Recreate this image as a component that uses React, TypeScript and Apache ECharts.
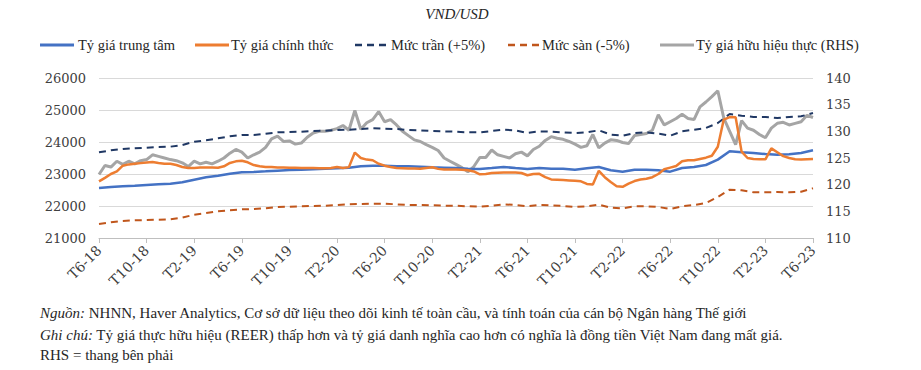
import React, { useEffect, useRef } from "react";
import * as echarts from "echarts";

// Monthly readings, index 0 = T6-18 ... 60 = T6-23
const centralRate = [
  22562, 22594, 22615, 22635, 22656, 22677, 22698, 22740, 22823, 22896,
  22948, 23010, 23052, 23063, 23083, 23104, 23125, 23135, 23146, 23167,
  23177, 23198, 23240, 23260, 23260, 23240, 23240, 23230, 23208, 23198,
  23187, 23167, 23156, 23187, 23219, 23187, 23156, 23187, 23167, 23167,
  23135, 23177, 23219, 23115, 23073, 23135, 23135, 23115, 23073, 23187,
  23219, 23281, 23450, 23708, 23677, 23656, 23625, 23604, 23615, 23656,
  23740,
];
const ceiling = [
  23677, 23740, 23781, 23802, 23823, 23844, 23854, 23906, 24010, 24052,
  24115, 24177, 24219, 24219, 24260, 24302, 24313, 24323, 24344, 24354,
  24375, 24385, 24406, 24427, 24417, 24406, 24375, 24365, 24344, 24333,
  24323, 24302, 24302, 24344, 24385, 24365, 24281, 24333, 24323, 24302,
  24281, 24302, 24365, 24229, 24198, 24281, 24302, 24260, 24198, 24333,
  24385, 24437, 24594, 24875, 24823, 24781, 24781, 24750, 24781, 24802,
  24906,
];
const floor = [
  21437, 21490, 21531, 21552, 21563, 21573, 21583, 21635, 21729, 21781,
  21833, 21865, 21896, 21906, 21927, 21969, 21979, 21990, 22000, 22010,
  22031, 22052, 22062, 22073, 22073, 22052, 22031, 22031, 22021, 22010,
  22010, 21990, 21979, 22010, 22052, 22031, 21990, 22031, 22021, 22000,
  21969, 21990, 22042, 21948, 21927, 21990, 21990, 21969, 21906, 21990,
  22031, 22094, 22281, 22510, 22490, 22427, 22427, 22438, 22427, 22448,
  22552,
];
// Semi-monthly readings, index k -> month k/2
const officialRate = [
  22770, 22880, 23000, 23080, 23260, 23300, 23320, 23340, 23360, 23375,
  23345, 23320, 23320, 23280, 23220, 23190, 23190, 23200, 23200, 23200,
  23195, 23240, 23345, 23395, 23415, 23365, 23280, 23240, 23220, 23215,
  23200, 23205, 23195, 23195, 23190, 23190, 23185, 23180, 23180, 23190,
  23220, 23190, 23215, 23670, 23500, 23450, 23430, 23320, 23260, 23220,
  23190, 23180, 23170, 23170, 23165, 23190, 23210, 23160, 23140, 23140,
  23140, 23130, 23115, 23080, 22990, 23000, 23030, 23040, 23050, 23050,
  23045, 23030, 22960, 23000, 23005, 22900, 22830, 22820, 22810, 22800,
  22790, 22770, 22690, 22670, 23100, 22900, 22750, 22620, 22600, 22700,
  22780, 22830, 22850, 22900, 23000, 23150, 23200, 23250, 23400, 23430,
  23430, 23470, 23510, 23570, 23850, 24700, 24780, 24770, 23700, 23500,
  23470, 23460, 23460, 23800, 23680, 23560, 23500, 23460, 23450, 23460,
  23470,
];
const reer = [
  121.9, 123.6, 123.3, 124.4, 123.8, 124.4, 123.9, 124.5, 124.7, 125.6,
  125.3, 125.0, 124.7, 124.5, 124.1, 123.4, 124.4, 123.9, 124.2, 123.9,
  124.4, 125.0, 125.9, 126.6, 126.1, 125.0, 125.6, 126.1, 127.0, 128.6,
  129.1, 128.1, 128.2, 127.6, 127.8, 128.9, 129.7, 130.0, 130.0, 130.2,
  130.5, 131.1, 130.2, 133.9, 130.4, 131.6, 132.2, 133.7, 131.8, 132.2,
  131.2, 130.0, 129.2, 128.4, 128.1, 127.5, 127.0, 126.4, 125.0, 124.4,
  123.8, 123.2, 122.4, 123.4, 125.1, 125.1, 126.5, 125.6, 125.3, 125.0,
  125.8, 126.1, 125.4, 126.6, 127.2, 128.3, 129.0, 128.7, 128.5, 128.1,
  127.6, 127.0, 127.3, 129.4, 126.9, 127.8, 128.4, 128.3, 127.9, 127.7,
  129.2, 129.4, 129.6, 130.2, 133.1, 131.2, 131.8, 132.4, 133.2, 132.4,
  132.2, 134.6, 135.5, 136.5, 137.6, 132.5, 130.0, 127.5, 132.0, 130.6,
  130.2, 129.4, 128.8, 130.6, 131.5, 131.7, 131.2, 131.5, 131.8, 133.0,
  132.6,
];

const seriesNames = [
  "Tỷ giá trung tâm",
  "Tỷ giá chính thức",
  "Mức trần (+5%)",
  "Mức sàn (-5%)",
  "Tỷ giá hữu hiệu thực (RHS)",
];
const seriesColors = ["#4472C4", "#ED7D31", "#203864", "#C0561C", "#A5A5A5"];
const seriesDashed = [false, false, true, true, false];
const subtitle = "VND/USD";
const noteSource =
  "NHNN, Haver Analytics, Cơ sở dữ liệu theo dõi kinh tế toàn cầu, và tính toán của cán bộ Ngân hàng Thế giới";
const noteComment =
  "Tỷ giá thực hữu hiệu (REER) thấp hơn và tỷ giá danh nghĩa cao hơn có nghĩa là đồng tiền Việt Nam đang mất giá.";
const noteRhs = "RHS = thang bên phải";

const monthly = (arr: number[]) => arr.map((v, i) => [i, v]);
const semiMonthly = (arr: number[]) => arr.map((v, i) => [i / 2, v]);

const monthLabel = (v: number) => {
  const m = 6 + v;
  const yy = 18 + Math.floor((m - 1) / 12);
  const mm = ((m - 1) % 12) + 1;
  return `T${mm}-${yy}`;
};

const SERIF = "'Liberation Serif', 'Times New Roman', serif";
const AXISFONT = "'DejaVu Serif', serif";

// legend layout: [lineStart, textStart]
const legendPos = [
  [40, 78],
  [195, 231],
  [355, 391],
  [508, 542],
  [660, 696],
];

export default function App() {
  const ref = useRef<HTMLDivElement>(null);
  useEffect(() => {
    if (!ref.current) return;
    const chart = echarts.init(ref.current, undefined, { renderer: "svg" });
    const legendGraphics: any[] = [];
    seriesNames.forEach((name, i) => {
      const [lx, tx] = legendPos[i];
      legendGraphics.push({
        type: "line",
        shape: { x1: lx, y1: 45, x2: lx + 34, y2: 45 },
        style: {
          stroke: seriesColors[i],
          lineWidth: seriesDashed[i] ? 2.5 : 3,
          lineDash: seriesDashed[i] ? [7, 5] : null,
        },
      });
      legendGraphics.push({
        type: "text",
        x: tx,
        y: 45,
        style: {
          text: name,
          font: `14.5px ${SERIF}`,
          fill: "#262626",
          verticalAlign: "middle",
        },
      });
    });
    chart.setOption({
      animation: false,
      backgroundColor: "#ffffff",
      grid: { left: 99, right: 108, top: 78, bottom: 132 },
      graphic: [
        {
          type: "text",
          x: 457,
          y: 14,
          style: {
            text: subtitle,
            font: `italic 15px ${SERIF}`,
            fill: "#262626",
            align: "center",
            verticalAlign: "middle",
          },
        },
        ...legendGraphics,
        {
          type: "text",
          x: 40,
          y: 313,
          style: {
            text: `{i|Nguồn:} ${noteSource}`,
            font: `15px ${SERIF}`,
            fill: "#262626",
            verticalAlign: "middle",
            rich: { i: { fontStyle: "italic", fontFamily: SERIF, fontSize: 15 } },
          },
        },
        {
          type: "text",
          x: 40,
          y: 335,
          style: {
            text: `{i|Ghi chú:} ${noteComment}`,
            font: `15px ${SERIF}`,
            fill: "#262626",
            verticalAlign: "middle",
            rich: { i: { fontStyle: "italic", fontFamily: SERIF, fontSize: 15 } },
          },
        },
        {
          type: "text",
          x: 40,
          y: 355,
          style: {
            text: noteRhs,
            font: `15px ${SERIF}`,
            fill: "#262626",
            verticalAlign: "middle",
          },
        },
      ],
      xAxis: {
        type: "value",
        min: 0,
        max: 60,
        interval: 4,
        axisLine: { lineStyle: { color: "#bfbfbf", width: 1 } },
        axisTick: { show: true, length: 5, lineStyle: { color: "#bfbfbf" } },
        splitLine: { show: false },
        axisLabel: {
          rotate: 45,
          margin: 10,
          formatter: (v: number) => monthLabel(v),
          fontFamily: AXISFONT,
          fontSize: 14,
          color: "#404040",
        },
      },
      yAxis: [
        {
          type: "value",
          min: 21000,
          max: 26000,
          interval: 1000,
          axisLine: { show: false },
          axisTick: { show: false },
          splitLine: { lineStyle: { color: "#d9d9d9", width: 1 } },
          axisLabel: {
            margin: 13,
            formatter: (v: number) => String(v),
            fontFamily: AXISFONT,
            fontSize: 13,
            color: "#404040",
          },
        },
        {
          type: "value",
          min: 110,
          max: 140,
          interval: 5,
          axisLine: { show: false },
          axisTick: { show: false },
          splitLine: { show: false },
          axisLabel: {
            margin: 13,
            formatter: (v: number) => String(v),
            fontFamily: AXISFONT,
            fontSize: 13,
            color: "#404040",
          },
        },
      ],
      series: [
        {
          name: seriesNames[0],
          type: "line",
          symbol: "none",
          data: monthly(centralRate),
          lineStyle: { color: seriesColors[0], width: 2.5 },
          itemStyle: { color: seriesColors[0] },
          z: 3,
        },
        {
          name: seriesNames[1],
          type: "line",
          symbol: "none",
          data: semiMonthly(officialRate),
          lineStyle: { color: seriesColors[1], width: 2.5 },
          itemStyle: { color: seriesColors[1] },
          z: 4,
        },
        {
          name: seriesNames[2],
          type: "line",
          symbol: "none",
          data: monthly(ceiling),
          lineStyle: { color: seriesColors[2], width: 2, type: [7, 5] },
          itemStyle: { color: seriesColors[2] },
          z: 2,
        },
        {
          name: seriesNames[3],
          type: "line",
          symbol: "none",
          data: monthly(floor),
          lineStyle: { color: seriesColors[3], width: 2, type: [7, 5] },
          itemStyle: { color: seriesColors[3] },
          z: 2,
        },
        {
          name: seriesNames[4],
          type: "line",
          symbol: "none",
          yAxisIndex: 1,
          data: semiMonthly(reer),
          lineStyle: { color: seriesColors[4], width: 3 },
          itemStyle: { color: seriesColors[4] },
          z: 1,
        },
      ],
    });
    return () => chart.dispose();
  }, []);
  return (
    <div
      ref={ref}
      style={{ position: "fixed", left: 0, top: 0, width: 921, height: 370 }}
    />
  );
}
